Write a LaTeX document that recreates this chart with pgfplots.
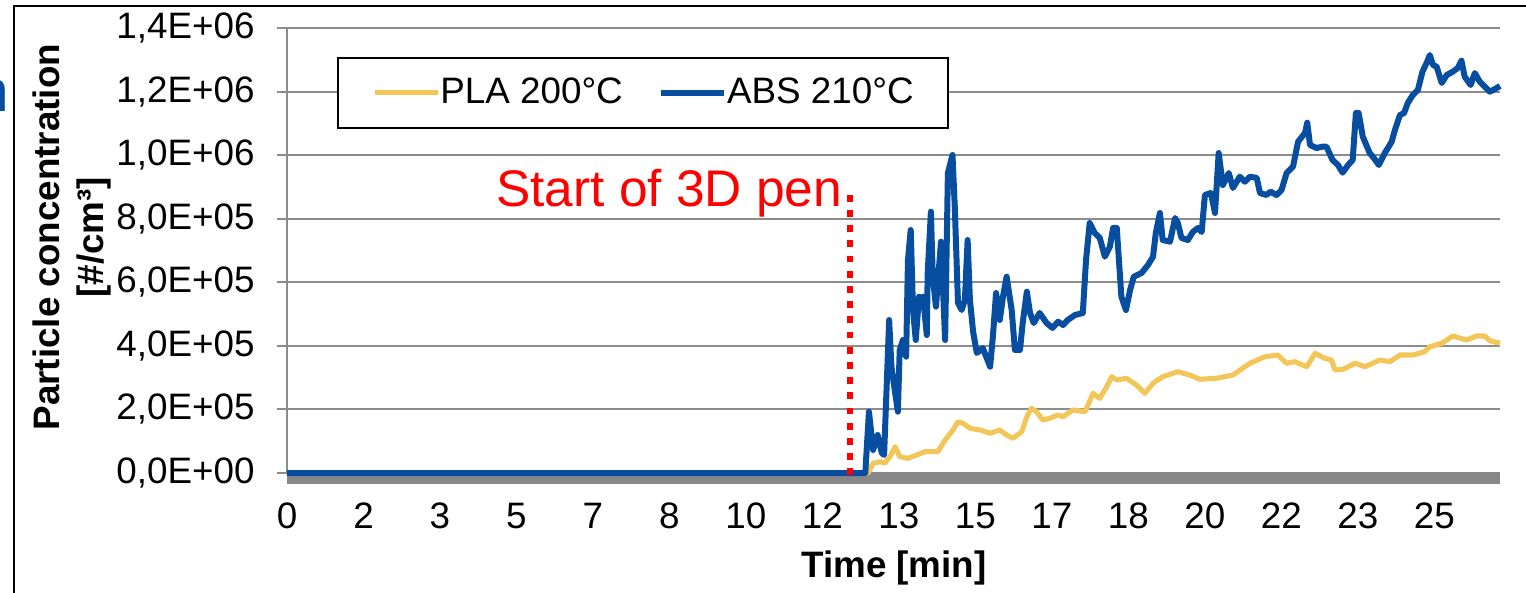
\documentclass[border=0pt]{standalone}
\usepackage{fontspec}
\setmainfont{Liberation Sans}
\usepackage{pgfplots}
\pgfplotsset{compat=1.18}

\definecolor{absblue}{RGB}{8,78,160}
\definecolor{plagold}{RGB}{242,198,88}
\definecolor{gridgray}{RGB}{140,140,140}
\definecolor{bandgray}{RGB}{136,136,136}

\newcommand{\fs}{\fontsize{13.8}{16.5}\selectfont}

\begin{document}
\begin{tikzpicture}
% page = 1526 x 592 px, 1px = 0.375pt, plot area lower-left at origin
\useasboundingbox (-107.625pt,-44.625pt) rectangle (464.625pt,177.375pt);
\draw[black, line width=0.8pt] (-102.4pt,-50pt) -- (-102.4pt,175.1pt) -- (470pt,175.1pt);
\node[anchor=base east, inner sep=0pt, text=absblue, font=\fontsize{22}{24}\selectfont] at (-103.9pt,135.4pt) {n};

\begin{axis}[%
at={(0,0)}, anchor=south west,
scale only axis,
width=454.875pt,
height=166.875pt,
xmin=0, xmax=26.43,
ymin=0, ymax=1400000,
clip=false,
axis lines=left,
axis line style={-, gridgray, line width=0.75pt},
x axis line style={draw=none},
ymajorgrids,
grid style={gridgray, line width=0.75pt},
tick align=outside,
major tick length=3.75pt,
ytick style={gridgray, line width=0.75pt},
xtick style={draw=none},
scaled y ticks=false,
ytick={0,200000,400000,600000,800000,1000000,1200000,1400000},
yticklabels={{0,0E+00},{2,0E+05},{4,0E+05},{6,0E+05},{8,0E+05},{1,0E+06},{1,2E+06},{1,4E+06}},
xtick={0,1.6667,3.3333,5,6.6667,8.3333,10,11.6667,13.3333,15,16.6667,18.3333,20,21.6667,23.3333,25},
xticklabels={0,2,3,5,7,8,10,12,13,15,17,18,20,22,23,25},
tick label style={font=\fs},
xticklabel style={yshift=-4pt},
yticklabel style={xshift=-4.9pt},
xlabel={Time [min]},
ylabel={Particle concentration\\{[}\#/cm³{]}},
xlabel style={font=\fs\bfseries, at={(axis description cs:0.5004,-0.2135)}, anchor=center},
ylabel style={font=\fs\bfseries, align=center, at={(axis description cs:-0.1772,0.530)}, anchor=center},
legend columns=2,
legend style={at={(0.0412,0.935)}, anchor=north west, draw=black, line width=0.75pt, fill=white,
  font=\fs, inner xsep=12.75pt, inner ysep=5.5pt, nodes={inner xsep=0pt},
  /tikz/every even column/.append style={column sep=13.1pt}},
legend image code/.code={\path (0pt,0pt) -- (23.75pt,0pt); \draw[#1] (1.875pt,0pt) -- (21.875pt,0pt);},
]
% grey baseline band
\addplot[bandgray, line width=4.5pt, yshift=-1.9pt, forget plot] coordinates {(0,0) (26.43,0)};

\addplot[plagold, line width=1.9pt, line join=round] coordinates {
(0,0) (12.66,0) (12.77,30500) (12.92,35500) (13.03,31500) (13.14,51300) (13.25,82700)
(13.35,51300) (13.53,46200) (13.72,56600) (13.90,67000) (14.18,67000) (14.34,103800)
(14.51,135300) (14.62,161400) (14.73,156400) (14.88,140600) (15.10,135300) (15.32,124900)
(15.53,135300) (15.68,119500) (15.82,109200) (16.01,129900) (16.12,177100) (16.22,203500)
(16.33,192900) (16.47,166700) (16.62,172100) (16.80,182500) (16.91,177100) (17.12,198200)
(17.39,192900) (17.56,250700) (17.71,235000) (17.86,271500) (17.97,303000) (18.08,292600)
(18.29,297900) (18.51,276800) (18.69,250700) (18.87,282200) (19.08,303000) (19.41,318700)
(19.67,308300) (19.89,294800) (20.25,297900) (20.61,308300) (20.98,345100) (21.31,365900)
(21.59,371200) (21.78,345100) (21.96,350200) (22.22,334400) (22.40,376600) (22.61,360800)
(22.76,355500) (22.83,324000) (23.01,326200) (23.27,345100) (23.49,334400) (23.81,355500)
(24.03,350200) (24.25,371200) (24.53,371200) (24.79,381600) (24.90,397300) (25.16,408000)
(25.40,431000) (25.70,418400) (25.92,431000) (26.10,431000) (26.21,416200) (26.43,408000)
};
\addlegendentry{PLA 200°C}

\addplot[absblue, line width=2.25pt, line join=round] coordinates {
(0,0) (12.60,0) (12.68,192900) (12.77,72400) (12.87,119500) (12.96,62900) (13.01,56600)
(13.12,481300) (13.17,334400) (13.31,192900) (13.35,387000) (13.42,418400) (13.49,365900)
(13.53,670100) (13.59,764500) (13.64,512800) (13.70,418400) (13.77,554600) (13.83,534800)
(13.86,554600) (13.94,434100) (13.96,629200) (14.03,822100) (14.07,617600) (14.14,523200)
(14.25,727700) (14.34,418400) (14.40,943800) (14.50,1000400) (14.55,837800) (14.62,534800)
(14.70,512800) (14.77,544300) (14.83,733000) (14.88,544300) (14.95,444500) (15.03,377500)
(15.16,393300) (15.32,334400) (15.38,428800) (15.45,566300) (15.53,481300) (15.60,554600)
(15.68,617600) (15.79,512800) (15.86,387000) (15.97,387000) (16.03,471900) (16.12,570400)
(16.19,503400) (16.27,471900) (16.40,503400) (16.55,471900) (16.68,456200) (16.80,476000)
(16.91,465600) (17.01,481300) (17.17,497100) (17.34,503400) (17.41,670100) (17.49,786500)
(17.60,755000) (17.71,739300) (17.82,680500) (17.93,711900) (18.00,770800) (18.08,770800)
(18.18,554600) (18.28,512800) (18.37,575700) (18.45,617600) (18.62,629200) (18.76,654400)
(18.87,680500) (18.93,755000) (19.02,818000) (19.08,733000) (19.24,727700) (19.35,802200)
(19.41,786500) (19.49,739300) (19.63,733000) (19.74,759100) (19.85,770800) (19.93,758200)
(20.00,874600) (20.13,880900) (20.22,818000) (20.30,1006700) (20.39,906000) (20.52,943800)
(20.61,896600) (20.76,932200) (20.87,916400) (20.98,932200) (21.13,928100) (21.20,880900)
(21.34,874600) (21.43,885000) (21.56,874600) (21.67,890300) (21.78,943800) (21.92,963600)
(22.03,1042300) (22.18,1069600) (22.23,1102000) (22.29,1031900) (22.43,1022500) (22.56,1026500)
(22.65,1026500) (22.78,984700) (22.90,969000) (23.00,944700) (23.12,969000) (23.22,984700)
(23.29,1132600) (23.35,1132600) (23.44,1058000) (23.59,1006700) (23.68,991000) (23.79,969000)
(23.92,1006700) (24.07,1042300) (24.14,1079100) (24.25,1126300) (24.34,1132600) (24.42,1164000)
(24.53,1189200) (24.64,1204900) (24.74,1262500) (24.83,1289900) (24.90,1315000) (24.97,1283600)
(25.05,1278200) (25.16,1226900) (25.27,1252100) (25.40,1262500) (25.51,1274100) (25.59,1297100)
(25.66,1246800) (25.79,1220600) (25.88,1258400) (25.99,1231000) (26.10,1215300) (26.21,1199600)
(26.32,1208100) (26.43,1217500)
};
\addlegendentry{ABS 210°C}

% start of the 3D pen
\draw[red, line width=2.5pt, dash pattern=on 2.5pt off 3.2pt] (axis cs:12.27,875000) -- (axis cs:12.27,-12000);
\node[anchor=base east, inner sep=0pt, text=red, font=\fontsize{19.3}{22}\selectfont] at (axis cs:12.11,838000) {Start of 3D pen};
\end{axis}
\end{tikzpicture}
\end{document}
